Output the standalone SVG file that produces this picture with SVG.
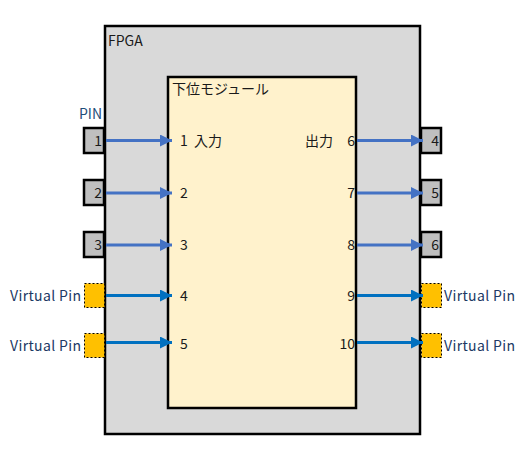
<svg xmlns="http://www.w3.org/2000/svg" width="526" height="461" viewBox="0 0 526 461">
<style>
text{font-family:"Noto Sans CJK JP","Noto Sans",sans-serif;font-size:14px;fill:#1a1a1a}
.pin{fill:#bfbfbf;stroke:#000;stroke-width:2.5}
.vpin{fill:#ffc000;stroke:#000;stroke-width:1;stroke-dasharray:2 2}
.a1{stroke:#4472c4;stroke-width:3;fill:none}
.a2{stroke:#0070c0;stroke-width:3;fill:none}
.end{text-anchor:end}
.blue{fill:#1f4e79}
.vp{fill:#203864}
</style>
<defs>
<marker id="m1" markerUnits="userSpaceOnUse" markerWidth="12" markerHeight="12" refX="12" refY="6" orient="auto"><path d="M0,0 L12,6 L0,12 z" fill="#4472c4"/></marker>
<marker id="m2" markerUnits="userSpaceOnUse" markerWidth="12" markerHeight="12" refX="12" refY="6" orient="auto"><path d="M0,0 L12,6 L0,12 z" fill="#0070c0"/></marker>
</defs>
<g id="fpga">
<rect x="105" y="26" width="315" height="408" fill="#d9d9d9" stroke="#000" stroke-width="2.5"/>
<text x="108" y="46">FPGA</text>
</g>
<g id="module">
<rect x="168" y="77" width="188" height="331" fill="#fff2cc" stroke="#000" stroke-width="2.5"/>
<text x="172" y="94">下位モジュール</text>
<text x="180" y="146" xml:space="preserve">1  入力</text>
<text x="180" y="198">2</text>
<text x="180" y="250">3</text>
<text x="180" y="301">4</text>
<text x="180" y="349">5</text>
<text x="305" y="146">出力</text>
<text class="end" x="355" y="146">6</text>
<text class="end" x="355" y="198">7</text>
<text class="end" x="355" y="250">8</text>
<text class="end" x="355" y="301">9</text>
<text class="end" x="355" y="349">10</text>
</g>
<g id="pin-label"><text class="blue" x="79" y="119">PIN</text></g>
<g id="pin1"><rect class="pin" x="84" y="128" width="20" height="25"/><text class="end" x="102" y="146">1</text></g>
<g id="pin2"><rect class="pin" x="84" y="180" width="20" height="25"/><text class="end" x="102" y="198">2</text></g>
<g id="pin3"><rect class="pin" x="84" y="232" width="20" height="25"/><text class="end" x="102" y="250">3</text></g>
<g id="pin4"><rect class="pin" x="421" y="128" width="20" height="25"/><text class="end" x="439" y="146">4</text></g>
<g id="pin5"><rect class="pin" x="421" y="180" width="20" height="25"/><text class="end" x="439" y="198">5</text></g>
<g id="pin6"><rect class="pin" x="421" y="232" width="20" height="25"/><text class="end" x="439" y="250">6</text></g>
<g id="vpin-l1"><rect class="vpin" x="84.5" y="283.5" width="20" height="24"/><text class="vp" x="10" y="301" textLength="71">Virtual Pin</text></g>
<g id="vpin-l2"><rect class="vpin" x="84.5" y="333.5" width="20" height="24"/><text class="vp" x="10" y="351" textLength="71">Virtual Pin</text></g>
<g id="vpin-r1"><rect class="vpin" x="421.5" y="283.5" width="20" height="24"/><text class="vp" x="444" y="301" textLength="71">Virtual Pin</text></g>
<g id="vpin-r2"><rect class="vpin" x="421.5" y="333.5" width="20" height="24"/><text class="vp" x="444" y="351" textLength="71">Virtual Pin</text></g>
<g id="connectors">
<line class="a1" x1="106" y1="140.5" x2="172" y2="140.5" marker-end="url(#m1)"/>
<line class="a1" x1="106" y1="193" x2="172" y2="193" marker-end="url(#m1)"/>
<line class="a1" x1="106" y1="245" x2="172" y2="245" marker-end="url(#m1)"/>
<line class="a2" x1="106" y1="295.5" x2="172" y2="295.5" marker-end="url(#m2)"/>
<line class="a2" x1="106" y1="342.5" x2="172" y2="342.5" marker-end="url(#m2)"/>
<line class="a1" x1="357" y1="140.5" x2="423" y2="140.5" marker-end="url(#m1)"/>
<line class="a1" x1="357" y1="193" x2="423" y2="193" marker-end="url(#m1)"/>
<line class="a1" x1="357" y1="245" x2="423" y2="245" marker-end="url(#m1)"/>
<line class="a2" x1="357" y1="295.5" x2="423" y2="295.5" marker-end="url(#m2)"/>
<line class="a2" x1="357" y1="342.5" x2="423" y2="342.5" marker-end="url(#m2)"/>
</g>
</svg>
